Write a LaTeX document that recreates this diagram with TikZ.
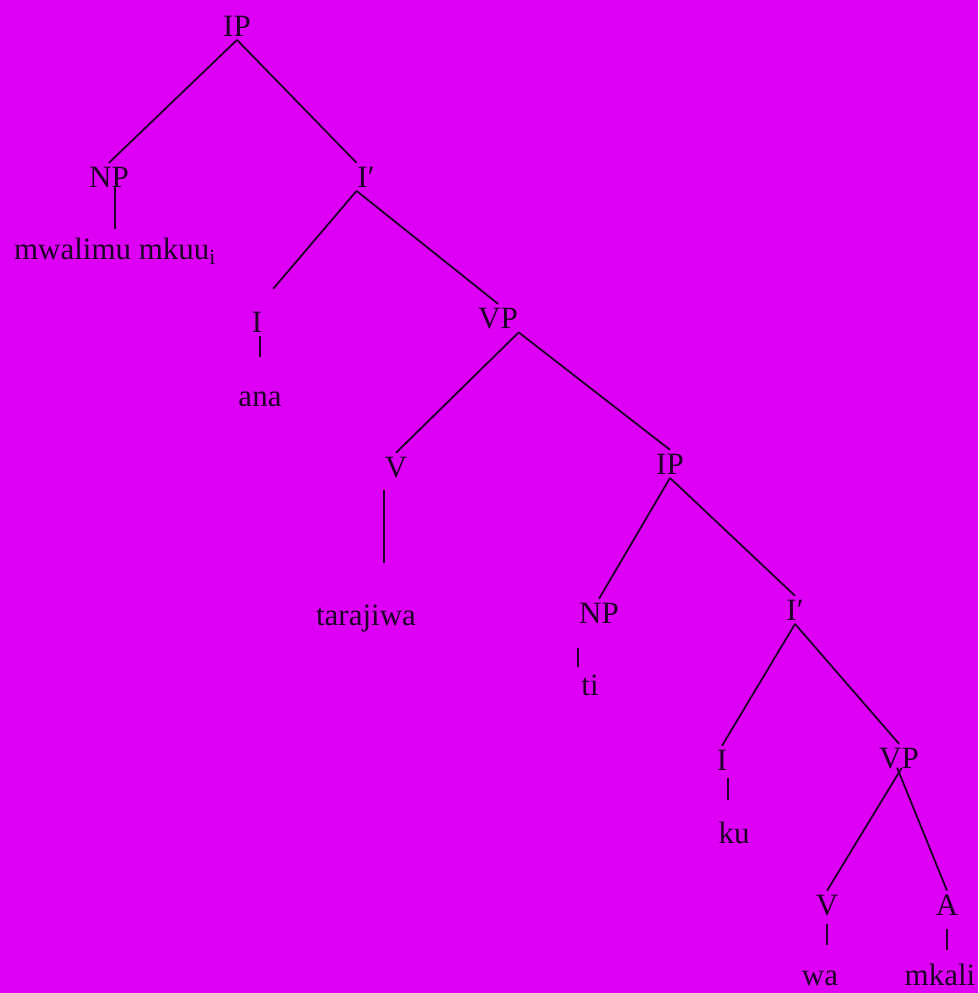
\documentclass[tikz,border=0pt]{standalone}
\usepackage{fontspec}
\setmainfont{Liberation Serif}
\usepackage{tikz}
\definecolor{bg}{RGB}{221,0,245}
\definecolor{ink}{RGB}{30,0,40}

\begin{document}
\begin{tikzpicture}[x=1pt, y=-1pt, line width=1.8pt, draw=ink,
  lab/.style={anchor=base, inner xsep=0pt, inner ysep=3pt, text=ink, font=\fontsize{31}{36}\selectfont}]
  \useasboundingbox (0,0) rectangle (978,993);
  \fill[bg] (0,0) rectangle (978,993);
  % tree labels
  \node[lab] (ip)  at (237,36)  {IP};
  \node[lab] (np)  at (109,187) {NP};  \node[lab] (mw)  at (115,259) {mwalimu mkuu\textsubscript{i}};
  \node[lab] (ib1) at (366,187) {I′};
  \node[lab] (i1)  at (257,332) {I};   \node[lab] (ana) at (260,406) {ana};
  \node[lab] (vp1) at (498,328) {VP};
  \node[lab] (v1)  at (396,477) {V};   \node[lab] (tar) at (366,625) {tarajiwa};
  \node[lab] (ip2) at (670,474) {IP};
  \node[lab] (np2) at (599,623) {NP};  \node[lab] (ti)  at (590,695) {ti};
  \node[lab] (ib2) at (795,620) {I′};
  \node[lab] (i3)  at (722,770) {I};   \node[lab] (ku)  at (734,843) {ku};
  \node[lab] (vp3) at (899,768) {VP};
  \node[lab] (v3)  at (827,915) {V};   \node[lab] (wa)  at (820,985) {wa};
  \node[lab] (a)   at (947,915) {A};   \node[lab] (mk)  at (940,985) {mkali};
  % branches
  \draw (ip.south)--(np.north); \draw (ip.south)--(ib1.north west);
  \draw[shorten >=25pt] (ib1.south west)--(i1.north); \draw (ib1.south west)--(vp1.north);
  \draw (vp1.south east)--(v1.north); \draw (vp1.south east)--(ip2.north);
  \draw (ip2.south)--(np2.north); \draw (ip2.south)--(ib2.north);
  \draw (ib2.south)--(i3.north); \draw (ib2.south)--(vp3.north);
  \draw[shorten <=-5pt] (vp3.south)--(v3.north); \draw[shorten <=-5pt] (vp3.south)--(a.north);
  % leaves
  \draw[shorten <=-5pt, shorten >=5pt] (mw.north |- np.south)--(mw.north);
  \draw[shorten >=30pt] (ana.north |- i1.south)--(ana.north);
  \draw[shorten <=9pt, shorten >=38pt] (v1.south west)--(v1.south west |- tar.north);
  \draw[shorten <=21pt, shorten >=4pt] (np2.south west)--(np2.south west |- ti.north);
  \draw[shorten <=4pt, shorten >=18pt] (i3.south east)--(i3.south east |- ku.north);
  \draw[shorten <=5pt, shorten >=22pt] (v3.south)--(v3.south |- wa.north);
  \draw[shorten <=10pt, shorten >=10pt] (a.south)--(a.south |- mk.north);
\end{tikzpicture}
\end{document}
